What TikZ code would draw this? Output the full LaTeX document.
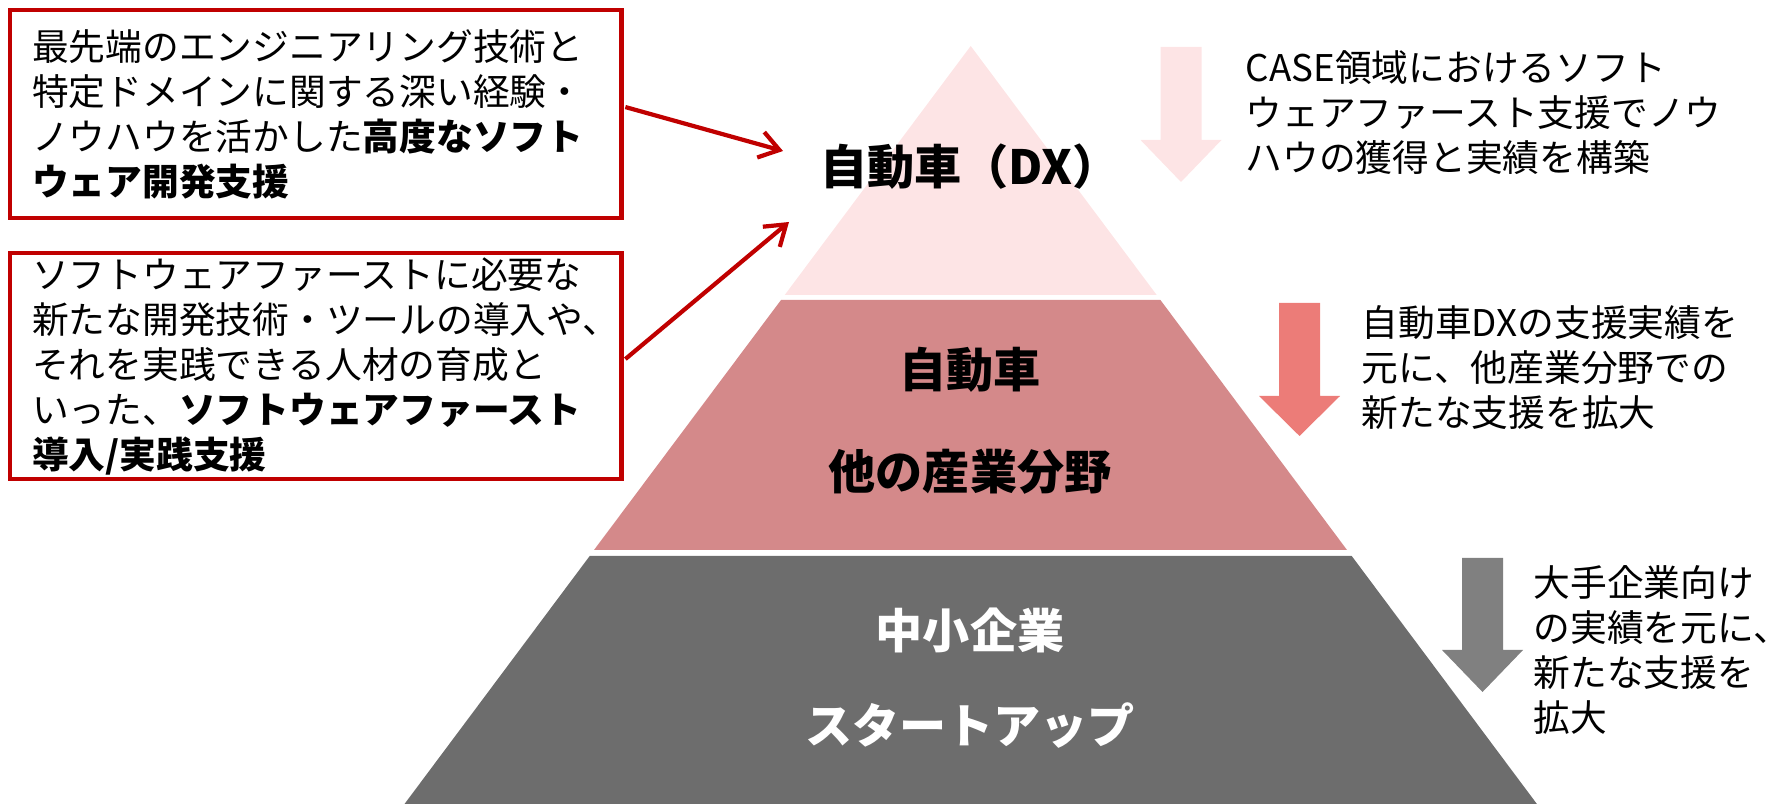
\documentclass[tikz,border=0pt]{standalone}
\usepackage{fontspec}
\setmainfont{Noto Sans CJK JP}
\usepackage{xcolor}
\usetikzlibrary{arrows.meta}
\definecolor{T0}{HTML}{FDE4E5}
\definecolor{T1}{HTML}{D4898A}
\definecolor{T2}{HTML}{6D6D6D}
\definecolor{A1}{HTML}{EC7C78}
\definecolor{A2}{HTML}{808080}
\definecolor{R0}{HTML}{C00000}
\tikzset{%
box/.style={draw=R0, line width=1.3pt, outer sep=0pt, inner xsep=0.22cm, inner ysep=0pt, text width=5.67cm, align=left, anchor=north west, font=\fontsize{10.45}{12.8}\selectfont},%
note/.style={inner sep=0pt, align=left, anchor=base west, font=\fontsize{10.45}{12.8}\selectfont},%
tierlbl/.style={inner sep=0pt, font=\fontsize{13.4}{16}\selectfont\bfseries},%
pointer/.style={draw=R0, line width=1.2pt, -{Straight Barb[length=5.5pt,width=7.5pt]}}%
}
\begin{document}
\begin{tikzpicture}[x=0.01cm, y=-0.01cm]%
\useasboundingbox (0,0) rectangle (1773,804);%
\fill[T0] (970.7,46) -- (1156.7,295) -- (784.7,295) -- cycle;%
\fill[T1] (781,300) -- (1160.4,300) -- (1347,550) -- (594,550) -- cycle;%
\fill[T2] (589.7,556) -- (1351.7,556) -- (1536.9,804) -- (404.5,804) -- cycle;%
\fill[T0] (1160.5,47) -- (1201.5,47) -- (1201.5,140) -- (1221.5,140) -- (1181,182) -- (1140.5,140) -- (1160.5,140) -- cycle;%
\fill[A1] (1279,303) -- (1320,303) -- (1320,396) -- (1340,396) -- (1299.5,436) -- (1259,396) -- (1279,396) -- cycle;%
\fill[A2] (1462,558) -- (1503,558) -- (1503,650) -- (1523,650) -- (1482.5,692) -- (1442,650) -- (1462,650) -- cycle;%
\node[tierlbl] (dx) at (970,167) {自動車（DX）};%
\node[tierlbl] (car) at (970,370) {自動車};%
\node[tierlbl] (other) at (970,472) {他の産業分野};%
\node[tierlbl, text=white] (sme) at (970,630) {中小企業};%
\node[tierlbl, text=white] (startup) at (970,726) {スタートアップ};%
\node[box, minimum height=2.08cm] (box1) at (10,10) {最先端のエンジニアリング技術と\\特定ドメインに関する深い経験・\\ノウハウを活かした\textbf{高度なソフト}\\\textbf{ウェア開発支援}};%
\node[box, minimum height=2.26cm] (box2) at (10,253) {ソフトウェアファーストに必要な\\新たな開発技術・ツールの導入や、\\それを実践できる人材の育成と\\いった、\textbf{ソフトウェアファースト}\\\textbf{導入/実践支援}};%
\coordinate (dxin1) at (783,151);%
\coordinate (dxin2) at (789,222);%
\draw[pointer] ([shift={(4,-7)}]box1.east) -- (dxin1);%
\draw[pointer] ([shift={(4,-7)}]box2.east) -- (dxin2);%
\node[note] (note1) at (1245,172) {CASE領域におけるソフト\\ウェアファースト支援でノウ\\ハウの獲得と実績を構築};%
\node[note] (note2) at (1361,427) {自動車DXの支援実績を\\元に、他産業分野での\\新たな支援を拡大};%
\node[note] (note3) at (1533,732) {大手企業向け\\の実績を元に、\\新たな支援を\\拡大};%
\end{tikzpicture}
\end{document}
